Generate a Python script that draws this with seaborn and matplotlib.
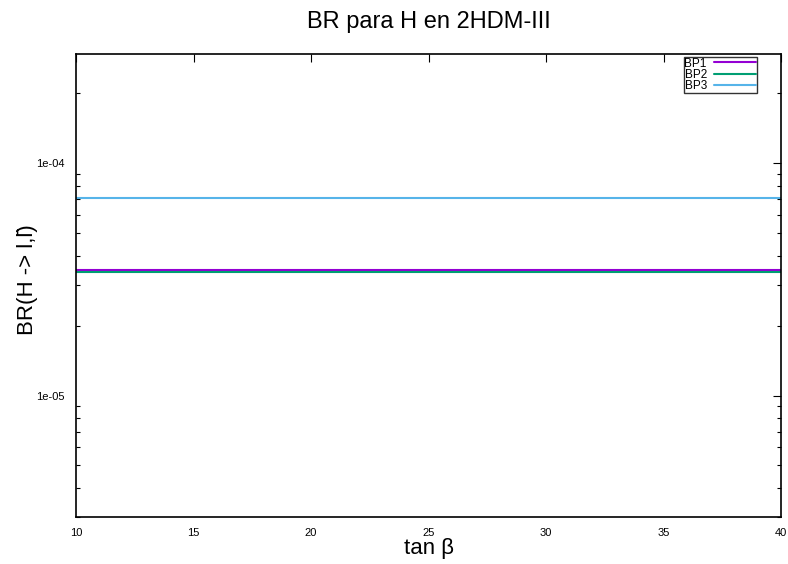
import pandas as pd
import seaborn as sns
import matplotlib
matplotlib.use("Agg")
import matplotlib.pyplot as plt
from matplotlib.ticker import LogLocator, FixedLocator, NullFormatter

# Data (BR is flat in tan beta)
tan_beta = [10, 15, 20, 25, 30, 35, 40]
br_bp1 = [3.48e-5, 3.48e-5, 3.48e-5, 3.48e-5, 3.48e-5, 3.48e-5, 3.48e-5]
br_bp2 = [3.40e-5, 3.40e-5, 3.40e-5, 3.40e-5, 3.40e-5, 3.40e-5, 3.40e-5]
br_bp3 = [7.06e-5, 7.06e-5, 7.06e-5, 7.06e-5, 7.06e-5, 7.06e-5, 7.06e-5]
series = ["BP1", "BP2", "BP3"]
colors = ["#9400d3", "#009e73", "#56b4e9"]
x_ticks = [10, 15, 20, 25, 30, 35, 40]

df = pd.DataFrame({
    "tanb": tan_beta * 3,
    "br": br_bp1 + br_bp2 + br_bp3,
    "bp": ["BP1"] * 7 + ["BP2"] * 7 + ["BP3"] * 7,
})

sns.set_theme(style="white")
plt.rcParams["font.family"] = ["Liberation Sans", "DejaVu Sans"]
plt.rcParams["text.color"] = "black"
plt.rcParams["axes.labelcolor"] = "black"
plt.rcParams["xtick.color"] = "black"
plt.rcParams["ytick.color"] = "black"

fig = plt.figure(figsize=(7.88, 5.64), dpi=100)
ax = fig.add_axes([76 / 788, 1 - 517 / 564, 705 / 788, 463 / 564])

sns.lineplot(data=df, x="tanb", y="br", hue="bp", hue_order=series,
             palette=colors, linewidth=1.5, ax=ax)

ax.set_yscale("log")
ax.set_xlim(10, 40)
ax.set_ylim(3e-6, 2.95e-4)

ax.xaxis.set_major_locator(FixedLocator(x_ticks))
ax.set_xticklabels([str(t) for t in x_ticks])
ax.yaxis.set_major_locator(FixedLocator([1e-5, 1e-4]))
ax.set_yticklabels(["1e-05", "1e-04"])
ax.yaxis.set_minor_locator(LogLocator(base=10, subs=range(2, 10)))
ax.yaxis.set_minor_formatter(NullFormatter())

ax.tick_params(axis="both", which="major", direction="in", length=6, width=0.8,
               top=True, right=True, labelsize=8, color="black", pad=8)
ax.tick_params(axis="y", which="minor", direction="in", length=3, width=0.8,
               left=True, right=True, color="black")
for s in ax.spines.values():
    s.set_color("black")
    s.set_linewidth(1.2)

ax.set_title("BR para H en 2HDM-III", fontsize=17, pad=19)
ax.set_xlabel("tan \u03b2", fontsize=16, labelpad=0)
ax.set_ylabel("BR(H -> l,l\u0304)", fontsize=16)
ax.yaxis.set_label_coords(-38 / 705, 0.512)

leg = ax.legend(loc="upper right", markerfirst=False, fontsize=8.5,
                frameon=True, fancybox=False, handlelength=3.6, borderpad=0.05,
                labelspacing=-0.05, handletextpad=0.6, borderaxespad=0.0)
leg.get_frame().set_edgecolor("black")
leg.get_frame().set_linewidth(1.0)
leg.set_bbox_to_anchor((757 / 788, 1 - 57 / 564), transform=fig.transFigure)

fig.savefig("out.png", dpi=100)
